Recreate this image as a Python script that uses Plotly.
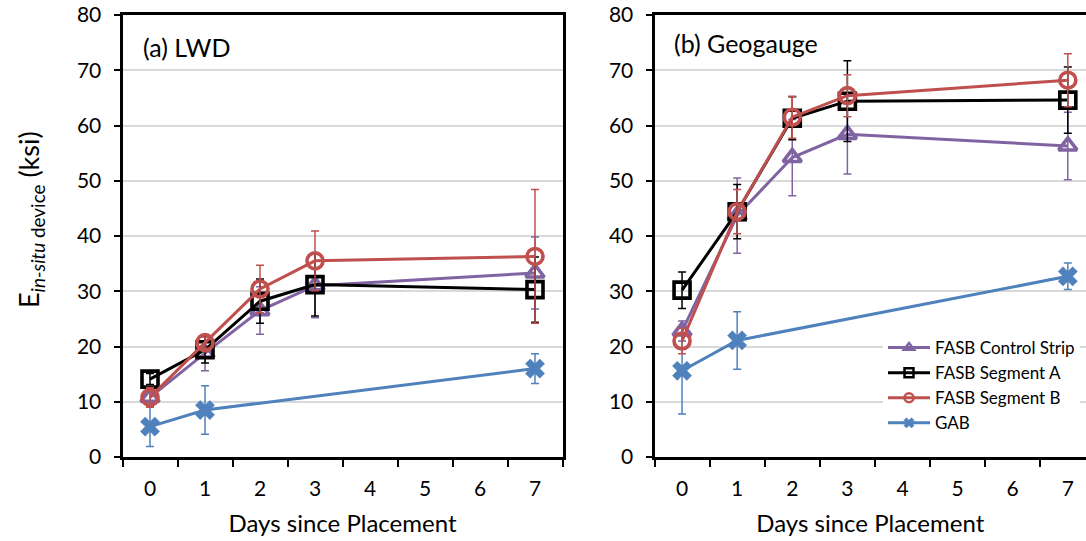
import plotly.graph_objects as go

days = [0, 1, 2, 3, 7]
days_gab = [0, 1, 7]
x_tick_labels = ["0", "1", "2", "3", "4", "5", "6", "7"]

# (a) LWD
lwd_control = [10.8, 18.8, 26.5, 31.0, 33.3]
lwd_control_err = [1.0, 3.2, 4.3, 5.8, 6.5]
lwd_segA = [14.1, 19.4, 28.2, 31.2, 30.3]
lwd_segA_err = [1.0, 2.4, 4.0, 5.7, 5.9]
lwd_segB = [10.8, 20.7, 30.4, 35.5, 36.3]
lwd_segB_err = [1.8, 1.0, 4.3, 5.4, 12.1]
lwd_gab = [5.5, 8.5, 16.0]
lwd_gab_err = [3.6, 4.4, 2.7]

# (b) Geogauge
geo_control = [22.8, 43.7, 54.2, 58.4, 56.3]
geo_control_err = [1.8, 6.8, 6.9, 7.2, 6.1]
geo_segA = [30.2, 44.4, 61.3, 64.4, 64.6]
geo_segA_err = [3.3, 4.9, 3.9, 7.3, 6.0]
geo_segB = [21.0, 44.4, 61.5, 65.4, 68.2]
geo_segB_err = [2.3, 4.0, 3.8, 3.8, 4.8]
geo_gab = [15.6, 21.1, 32.7]
geo_gab_err = [7.8, 5.2, 2.4]

names = ["FASB Control Strip", "FASB Segment A", "FASB Segment B", "GAB"]
colors = ["#8064A2", "#000000", "#C0504D", "#4F81BD"]
symbols = ["triangle-up-open", "square-open", "circle-open", "x"]

FONT = "Lato"
W, H = 1086, 541
TOP, BOT = 15, 457


def py2paper(py):
    return (BOT - py) / (BOT - TOP)


fig = go.Figure()


def add_series(x, y, err, idx, xa, ya):
    c = colors[idx]
    sym = symbols[idx]
    marker = dict(symbol=sym, size=16, color=c, line=dict(width=3.6, color=c))
    if sym == "x":
        marker = dict(symbol="x", size=17, color=c, line=dict(width=0.5, color=c))
    fig.add_trace(go.Scatter(
        x=x, y=y, mode="lines+markers", xaxis=xa, yaxis=ya,
        line=dict(color=c, width=3), marker=marker,
        error_y=dict(type="data", array=err, visible=True, color=c,
                     thickness=1.5, width=4),
        showlegend=False, name=names[idx], cliponaxis=False))


panels = [
    ("x", "y", lwd_control, lwd_control_err, lwd_segA, lwd_segA_err,
     lwd_segB, lwd_segB_err, lwd_gab, lwd_gab_err),
    ("x2", "y2", geo_control, geo_control_err, geo_segA, geo_segA_err,
     geo_segB, geo_segB_err, geo_gab, geo_gab_err),
]
for xa, ya, c, ce, a, ae, b, be, g, ge in panels:
    add_series(days_gab, g, ge, 3, xa, ya)
    add_series(days, c, ce, 0, xa, ya)
    add_series(days, a, ae, 1, xa, ya)
    add_series(days, b, be, 2, xa, ya)

# legend-only entries with small markers
for i in range(4):
    c = colors[i]
    if symbols[i] == "x":
        mk = dict(symbol="x", size=9, color=c, line=dict(width=0.5, color=c))
    else:
        mk = dict(symbol=symbols[i], size=9, color=c, line=dict(width=2.5, color=c))
    fig.add_trace(go.Scatter(
        x=[None], y=[None], mode="lines+markers", xaxis="x2", yaxis="y2",
        line=dict(color=c, width=3), marker=mk, name=names[i], showlegend=True))

ax_common = dict(
    showline=True, linewidth=3, linecolor="black",
    tickfont=dict(family=FONT, size=21, color="black"),
    zeroline=False,
)
xcommon = dict(ax_common, tickmode="array", tickvals=list(range(8)),
               ticktext=x_tick_labels, ticks="", showgrid=False,
               ticklabelstandoff=11,
               minor=dict(tickmode="array", tickvals=[i - 0.5 for i in range(9)],
                          ticks="outside", ticklen=7, tickwidth=1.5, tickcolor="black",
                          showgrid=False),
               title=dict(text="Days since Placement",
                          font=dict(family=FONT, size=24, color="black"), standoff=16))
ycommon = dict(ax_common, range=[0, 80], dtick=10, tick0=0, ticks="outside",
               ticklen=6, tickwidth=1.5, tickcolor="black",
               showgrid=True, gridcolor="#D9D9D9", gridwidth=1.5,
               ticklabelstandoff=8)

fig.update_layout(
    width=W, height=H,
    margin=dict(l=0, r=0, t=TOP, b=H - BOT),
    paper_bgcolor="white", plot_bgcolor="white",
    xaxis=dict(xcommon, domain=[122.5 / W, 562.5 / W], range=[-0.5, 7.5],
               mirror=True, anchor="y"),
    yaxis=dict(ycommon, domain=[0, 1], anchor="x", mirror=True),
    xaxis2=dict(xcommon, domain=[654.5 / W, 1.0], range=[-0.5, 7.33],
                mirror=True, anchor="y2"),
    yaxis2=dict(ycommon, domain=[0, 1], anchor="x2", mirror=False),
    legend=dict(x=883 / W, y=py2paper(330), xanchor="left", yanchor="top",
                bgcolor="white", borderwidth=0, itemwidth=42,
                tracegroupgap=0,
                font=dict(family=FONT, size=17, color="black")),
    annotations=[
        dict(text="(a) LWD", xref="paper", yref="paper", x=141 / W, y=py2paper(47),
             xanchor="left", yanchor="middle", showarrow=False,
             font=dict(family=FONT, size=25, color="black")),
        dict(text="(b) Geogauge", xref="paper", yref="paper", x=672 / W, y=py2paper(43),
             xanchor="left", yanchor="middle", showarrow=False,
             font=dict(family=FONT, size=25, color="black")),
        dict(text="E<sub><i>in-situ</i> device</sub> (ksi)", xref="paper", yref="paper",
             x=30 / W, y=py2paper(220), xanchor="center", yanchor="middle",
             textangle=-90, showarrow=False,
             font=dict(family=FONT, size=27, color="black")),
    ],
)

fig.write_html("out.html")
